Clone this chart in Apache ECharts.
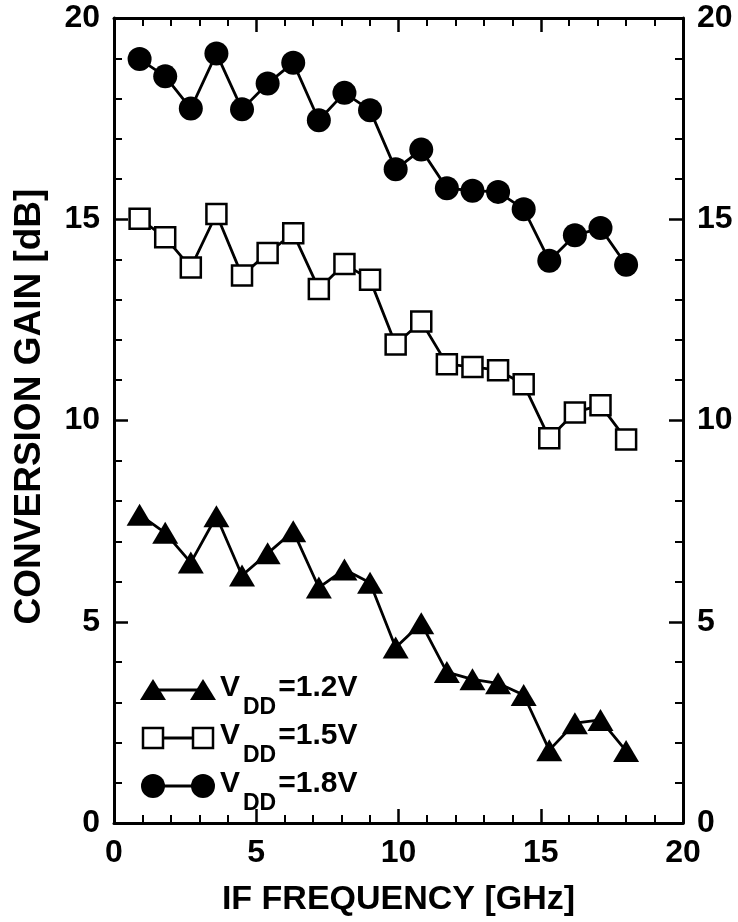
<!DOCTYPE html>
<html>
<head>
<meta charset="utf-8">
<script src="https://cdn.jsdelivr.net/npm/echarts@6/dist/echarts.min.js"></script>
<style>
  html, body { margin: 0; padding: 0; background: #fff; }
  #chart { width: 738px; height: 922px; }
</style>
</head>
<body>
<div id="chart"></div>
<script>
// IF frequency points [GHz]
var freq = [0.9, 1.8, 2.7, 3.6, 4.5, 5.4, 6.3, 7.2, 8.1, 9.0,
            9.9, 10.8, 11.7, 12.6, 13.5, 14.4, 15.3, 16.2, 17.1, 18.0];

// conversion gain [dB] for each supply voltage
var gain12 = [7.66, 7.21, 6.47, 7.62, 6.15, 6.70, 7.25, 5.85, 6.30, 5.97,
              4.36, 4.96, 3.75, 3.57, 3.47, 3.18, 1.81, 2.48, 2.56, 1.79];
var gain15 = [15.01, 14.55, 13.80, 15.13, 13.60, 14.16, 14.65, 13.27, 13.89, 13.50,
              11.89, 12.46, 11.40, 11.33, 11.25, 10.90, 9.56, 10.20, 10.38, 9.53];
var gain18 = [18.98, 18.55, 17.75, 19.12, 17.73, 18.37, 18.89, 17.46, 18.14, 17.71,
              16.24, 16.73, 15.77, 15.71, 15.68, 15.25, 13.97, 14.60, 14.78, 13.87];

var legendNames = ['1.2V', '1.5V', '1.8V'];

var FONT = '"Liberation Sans", Arial, sans-serif';

function pairs(ys) {
    return freq.map(function (x, i) { return [x, ys[i]]; });
}

// text width helper for the hand-made legend
var measureCtx = document.createElement('canvas').getContext('2d');
function textWidth(str, size) {
    measureCtx.font = 'bold ' + size + 'px ' + FONT;
    return measureCtx.measureText(str).width;
}

var chart = echarts.init(document.getElementById('chart'));

// axis styles shared by all four sides
function axisCommon(showLabel) {
    return {
        type: 'value',
        axisLine: { show: true, onZero: false, lineStyle: { color: '#000', width: 3 } },
        axisTick: { show: true, inside: true, length: 14, lineStyle: { color: '#000', width: 2.5 } },
        minorTick: { show: true, splitNumber: 5, length: 8, lineStyle: { color: '#000', width: 2 } },
        splitLine: { show: false },
        axisLabel: {
            show: showLabel,
            color: '#000',
            fontFamily: FONT,
            fontWeight: 'bold',
            fontSize: 32,
            margin: 14
        }
    };
}

var xBottom = Object.assign(axisCommon(true), {
    min: 0, max: 20, interval: 5, position: 'bottom',
    name: 'IF FREQUENCY [GHz]',
    nameLocation: 'middle',
    nameGap: 60,
    nameTextStyle: { color: '#000', fontFamily: FONT, fontWeight: 'bold', fontSize: 34 }
});
var xTop = Object.assign(axisCommon(false), { min: 0, max: 20, interval: 5, position: 'top' });

var yLeft = Object.assign(axisCommon(true), {
    min: 0, max: 20, interval: 5, position: 'left',
    name: 'CONVERSION GAIN [dB]',
    nameLocation: 'middle',
    nameGap: 66,
    nameTextStyle: {
        color: '#000', fontFamily: FONT, fontWeight: 'bold', fontSize: 37,
        padding: [0, 0, 0, 28]
    }
});
var yRight = Object.assign(axisCommon(true), { min: 0, max: 20, interval: 5, position: 'right' });

function lineSeries(name, ys, symbol, size, fill) {
    return {
        name: name,
        type: 'line',
        xAxisIndex: 0,
        yAxisIndex: 0,
        data: pairs(ys),
        symbol: symbol,
        symbolSize: size,
        showAllSymbol: true,
        lineStyle: { color: '#000', width: 2.8 },
        itemStyle: { color: fill, borderColor: '#000', borderWidth: fill === '#fff' ? 2.5 : 0 },
        z: 3
    };
}

// legend drawn by hand: symbol - line - symbol, then V_DD text
function legendRow(y, kind, label) {
    var els = [{
        type: 'line',
        shape: { x1: 153, y1: y, x2: 203, y2: y },
        style: { stroke: '#000', lineWidth: 2.8 }
    }];
    [153, 203].forEach(function (cx) {
        if (kind === 'tri') {
            els.push({ type: 'polygon', shape: { points: [[cx, y - 11], [cx + 13, y + 10], [cx - 13, y + 10]] }, style: { fill: '#000' } });
        } else if (kind === 'rect') {
            els.push({ type: 'rect', shape: { x: cx - 10, y: y - 10, width: 20, height: 20 }, style: { fill: '#fff', stroke: '#000', lineWidth: 2.5 } });
        } else {
            els.push({ type: 'circle', shape: { cx: cx, cy: y, r: 12 }, style: { fill: '#000' } });
        }
    });
    var big = 30, small = 23;
    var x0 = 220;
    var x1 = x0 + textWidth('V', big) + 3;
    var x2 = x1 + textWidth('DD', small) + 2;
    var txt = function (x, ty, str, size) {
        return {
            type: 'text', x: x, y: ty,
            style: { text: str, fill: '#000', font: 'bold ' + size + 'px ' + FONT, verticalAlign: 'middle', align: 'left' }
        };
    };
    els.push(txt(x0, y - 2, 'V', big));
    els.push(txt(x1, y + 18, 'DD', small));
    els.push(txt(x2, y - 2, '=' + label, big));
    return els;
}

var option = {
    backgroundColor: '#fff',
    animation: false,
    grid: { left: 114, right: 55, top: 18, bottom: 96 },
    xAxis: [xBottom, xTop],
    yAxis: [yLeft, yRight],
    series: [
        lineSeries('VDD=1.2V', gain12, 'triangle', [26, 22], '#000'),
        lineSeries('VDD=1.5V', gain15, 'rect', 20, '#fff'),
        lineSeries('VDD=1.8V', gain18, 'circle', 24, '#000')
    ],
    graphic: [].concat(
        legendRow(690, 'tri', legendNames[0]),
        legendRow(738, 'rect', legendNames[1]),
        legendRow(786, 'circle', legendNames[2])
    )
};

chart.setOption(option);
</script>
</body>
</html>
